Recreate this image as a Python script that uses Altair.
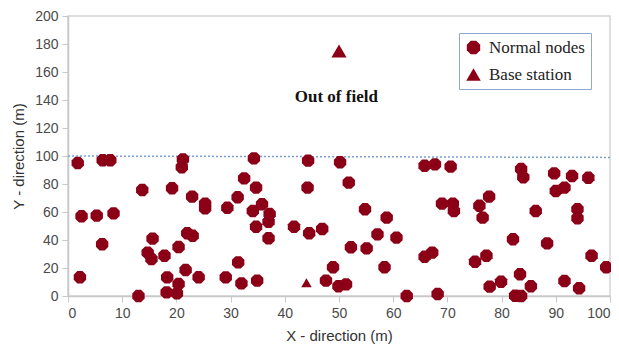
import altair as alt
import pandas as pd

# Normal sensor nodes (x, y in metres)
node_x = [1.8, 6.4, 7.8, 2.5, 5.3, 8.4, 6.3, 2.2, 13.0, 13.7,
          21.2, 21.0, 19.2, 22.9, 25.3, 25.3, 15.6, 14.7, 15.4, 17.8,
          20.4, 22.0, 23.0, 18.3, 21.7, 24.1, 20.4, 18.2, 20.1, 34.3,
          44.3, 50.2, 32.5, 34.7, 44.2, 51.8, 31.3, 29.4, 34.1, 35.8,
          37.2, 37.0, 34.7, 37.0, 41.7, 44.5, 46.9, 54.8, 58.8, 57.1,
          60.6, 52.2, 55.1, 31.4, 29.1, 32.0, 34.9, 48.9, 47.6, 49.9,
          51.3, 58.4, 62.5, 65.8, 67.7, 70.6, 69.0, 71.0, 71.2, 77.7,
          75.9, 76.5, 83.6, 84.0, 89.7, 93.0, 96.0, 90.0, 91.6, 86.3,
          94.0, 94.0, 82.1, 88.4, 65.8, 67.2, 75.1, 77.2, 96.6, 99.3,
          83.4, 79.9, 77.8, 85.4, 91.6, 94.3, 82.5, 83.6, 68.2]
node_y = [95, 97, 97, 57, 57.4, 59, 37, 13.4, 0, 75.7,
          97.6, 92, 77, 71, 66, 62.6, 41, 31, 26.4, 28.8,
          35, 44.8, 43, 13.3, 18.6, 13.4, 8.6, 2.6, 1.9, 98.3,
          96.7, 95.5, 84, 77.4, 77.4, 81, 70.5, 63, 60.7, 65.5,
          58.6, 53, 49.5, 41.2, 49.5, 44.8, 47.9, 62, 56, 44,
          41.7, 34.8, 34, 24, 13.3, 9, 11, 20.5, 11, 7,
          8.3, 20.5, 0, 93, 94, 92.4, 66, 66, 60.7, 71,
          64.5, 56, 90.7, 84.8, 87.6, 85.7, 84.5, 75, 77.4, 60.7,
          62, 55.5, 40.5, 37.6, 28, 31, 24.5, 28.8, 28.8, 20.5,
          15.5, 10.2, 6.7, 7, 10.7, 5.5, 0.2, 0, 1.4]

# Base station
bs_x = [50]
bs_y = [175]

# Small triangle marker inside the field
mark_x = [44]
mark_y = [9.5]

# Field boundary (dotted line)
bound_x = [0, 100]
bound_y = [100, 99]

# Annotation
note_text = ["Out of field"]
note_x = [49.5]
note_y = [142]

legend_labels = ["Normal nodes", "Base station"]
x_ticks = list(range(0, 101, 10))
y_ticks = list(range(0, 201, 20))

RED = "#8b0016"
OCT = ("M-0.383,-0.924L0.383,-0.924L0.924,-0.383L0.924,0.383L0.383,0.924"
       "L-0.383,0.924L-0.924,0.383L-0.924,-0.383Z")

pts = pd.DataFrame({
    "x": node_x + bs_x,
    "y": node_y + bs_y,
    "type": ["Normal nodes"] * len(node_x) + ["Base station"] * len(bs_x),
})

xs = alt.Scale(domain=[0, 100], nice=False)
ys = alt.Scale(domain=[0, 200], nice=False)


def X():
    return alt.X("x:Q", scale=xs, axis=alt.Axis(values=x_ticks, title="X - direction (m)",
                                                 grid=False, labelOverlap=False))


def Y():
    return alt.Y("y:Q", scale=ys, axis=alt.Axis(values=y_ticks, title="Y - direction (m)",
                                                 grid=False, labelOverlap=False))


leg = dict(orient="none", legendX=391, legendY=17, title=None,
           labelFont="Liberation Serif", labelFontSize=17,
           labelColor="#222222", symbolSize=210,
           strokeColor="#8fa8cf", padding=6, rowPadding=9,
           symbolStrokeWidth=0, fillColor="white", labelOffset=7)

points = alt.Chart(pts).mark_point(filled=True, opacity=1).encode(
    x=X(), y=Y(),
    shape=alt.Shape("type:N",
                    scale=alt.Scale(domain=legend_labels, range=[OCT, "triangle-up"]),
                    legend=alt.Legend(**leg)),
    color=alt.Color("type:N",
                    scale=alt.Scale(domain=legend_labels, range=[RED, RED]),
                    legend=alt.Legend(**leg)),
    size=alt.condition(alt.datum.type == "Base station", alt.value(230), alt.value(180)),
)

small = alt.Chart(pd.DataFrame({"x": mark_x, "y": mark_y})).mark_point(
    filled=True, opacity=1, shape="triangle-up", color=RED, size=110
).encode(x=X(), y=Y())

boundary = alt.Chart(pd.DataFrame({"x": bound_x, "y": bound_y})).mark_line(
    color="#7aa0d4", strokeDash=[2, 2], strokeWidth=1.5
).encode(x=X(), y=Y())

note = alt.Chart(pd.DataFrame({"x": note_x, "y": note_y, "t": note_text})).mark_text(
    font="Liberation Serif", fontSize=17, fontWeight="bold", color="#111111"
).encode(x=X(), y=Y(), text="t:N")

chart = alt.layer(boundary, points, small, note).properties(
    width=542, height=280,
    autosize=alt.AutoSizeParams(type="none"),
    padding={"left": 60, "top": 8, "right": 1, "bottom": 48},
).configure_view(stroke="#d4d4d4", strokeWidth=1.5).configure_axis(
    domainColor="#c8c8c8", domainWidth=1.5, tickColor="#c8c8c8", tickSize=6,
    labelFont="Liberation Sans", labelFontSize=14, labelColor="#4a4a4a",
    labelPadding=4, titleFont="Liberation Sans", titleFontSize=15,
    titleFontWeight="normal", titleColor="#333333", titlePadding=8
)

chart.save("out.html", embed_options={"renderer": "svg", "actions": False})
